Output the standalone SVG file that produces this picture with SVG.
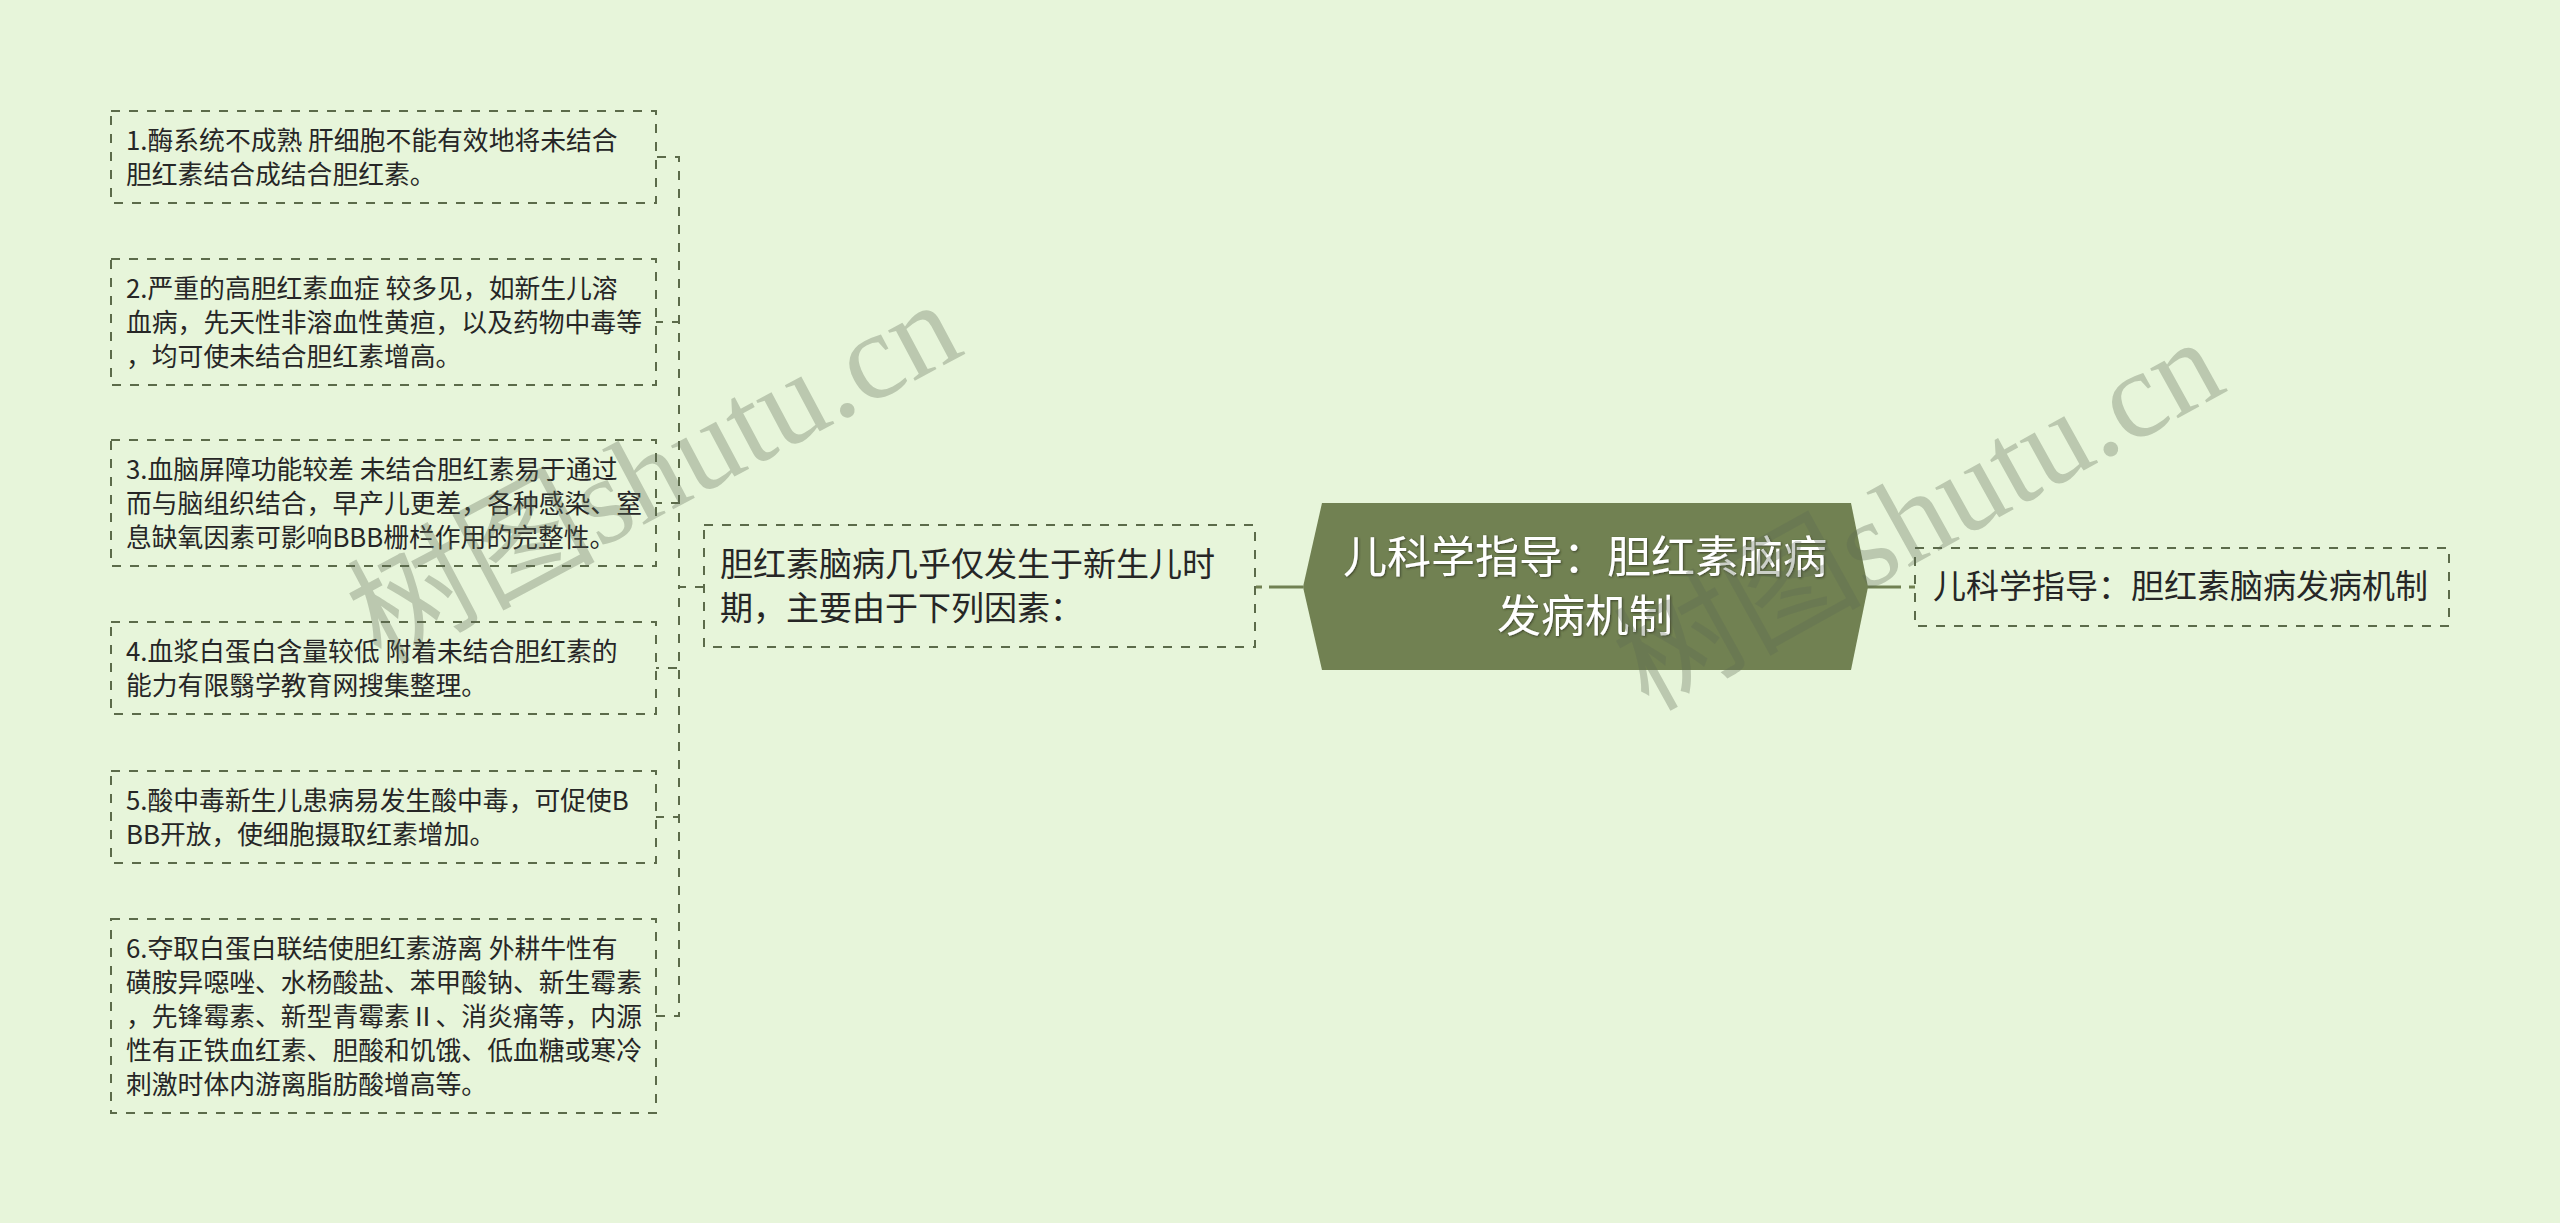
<svg xmlns="http://www.w3.org/2000/svg" width="2560" height="1223" viewBox="0 0 2560 1223">
<defs>
<style>
.bg{fill:#e7f5da}
.box{fill:none;stroke:#5c6b4a;stroke-width:2;stroke-dasharray:9 9}
.con{fill:none;stroke:#5c6b4a;stroke-width:2;stroke-dasharray:9 9}
.solid{fill:none;stroke:#718152;stroke-width:3}
.t{font-family:"Noto Sans CJK SC","Noto Sans",sans-serif;font-size:25.8px;fill:#262626}
.tm{font-family:"Noto Sans CJK SC","Noto Sans",sans-serif;font-size:33px;fill:#262626}
.tc{font-family:"Noto Sans CJK SC","Noto Sans",sans-serif;font-size:44px;fill:#ffffff;text-anchor:middle}
.wm{font-family:"Liberation Serif","Noto Sans CJK SC",serif;font-size:124px;fill:#5e6a55;fill-opacity:0.32}
</style>
<filter id="sh" x="-5%" y="-20%" width="110%" height="140%">
<feDropShadow dx="1" dy="1" stdDeviation="0.8" flood-color="#2e3520" flood-opacity="0.8"/>
</filter>
</defs>
<rect class="bg" x="0" y="0" width="2560" height="1223"/>
<g id="connectors">
<path class="con" d="M704 587H679V157H656"/>
<path class="con" d="M704 587H679V322H656"/>
<path class="con" d="M704 587H679V503H656"/>
<path class="con" d="M704 587H679V668H656"/>
<path class="con" d="M704 587H679V817H656"/>
<path class="con" d="M704 587H679V1016H656"/>
<path class="solid" d="M1269 587H1303"/>
<path class="solid" d="M1256 587H1262"/>
<path class="solid" d="M1867 587H1901"/>
<path class="solid" d="M1909 587H1915"/>
</g>
<g id="center">
<polygon points="1303,587 1322,503 1851,503 1868,587 1851,670 1322,670" fill="#718152"/>
<g filter="url(#sh)">
<text class="tc" x="1585" y="573">儿科学指导：胆红素脑病</text>
<text class="tc" x="1585" y="632">发病机制</text>
</g>
</g>
<g id="right">
<rect class="box" x="1915" y="548" width="534" height="78"/>
<text class="tm" x="1933" y="598">儿科学指导：胆红素脑病发病机制</text>
</g>
<g id="parent">
<rect class="box" x="704" y="525" width="551" height="122"/>
<text class="tm" x="720" y="576">胆红素脑病几乎仅发生于新生儿时</text>
<text class="tm" x="720" y="620">期，主要由于下列因素：</text>
</g>
<g id="item1">
<rect class="box" x="111" y="111" width="545" height="92"/>
<text class="t" x="126" y="150">1.酶系统不成熟 肝细胞不能有效地将未结合</text>
<text class="t" x="126" y="184">胆红素结合成结合胆红素。</text>
</g>
<g id="item2">
<rect class="box" x="111" y="259" width="545" height="126"/>
<text class="t" x="126" y="298">2.严重的高胆红素血症 较多见，如新生儿溶</text>
<text class="t" x="126" y="332">血病，先天性非溶血性黄疸，以及药物中毒等</text>
<text class="t" x="126" y="366">，均可使未结合胆红素增高。</text>
</g>
<g id="item3">
<rect class="box" x="111" y="440" width="545" height="126"/>
<text class="t" x="126" y="479">3.血脑屏障功能较差 未结合胆红素易于通过</text>
<text class="t" x="126" y="513">而与脑组织结合，早产儿更差，各种感染、窒</text>
<text class="t" x="126" y="547">息缺氧因素可影响BBB栅栏作用的完整性。</text>
</g>
<g id="item4">
<rect class="box" x="111" y="622" width="545" height="92"/>
<text class="t" x="126" y="661">4.血浆白蛋白含量较低 附着未结合胆红素的</text>
<text class="t" x="126" y="695">能力有限翳学教育网搜集整理。</text>
</g>
<g id="item5">
<rect class="box" x="111" y="771" width="545" height="92"/>
<text class="t" x="126" y="810">5.酸中毒新生儿患病易发生酸中毒，可促使B</text>
<text class="t" x="126" y="844">BB开放，使细胞摄取红素增加。</text>
</g>
<g id="item6">
<rect class="box" x="111" y="919" width="545" height="194"/>
<text class="t" x="126" y="958">6.夺取白蛋白联结使胆红素游离 外耕牛性有</text>
<text class="t" x="126" y="992">磺胺异噁唑、水杨酸盐、苯甲酸钠、新生霉素</text>
<text class="t" x="126" y="1026">，先锋霉素、新型青霉素Ⅱ、消炎痛等，内源</text>
<text class="t" x="126" y="1060">性有正铁血红素、胆酸和饥饿、低血糖或寒冷</text>
<text class="t" x="126" y="1094">刺激时体内游离脂肪酸增高等。</text>
</g>
<g id="watermarks">
<text class="wm" transform="translate(380 665) rotate(-28)">树图shutu.cn</text>
<text class="wm" transform="translate(1648 712) rotate(-29)">树图shutu.cn</text>
</g>
</svg>
